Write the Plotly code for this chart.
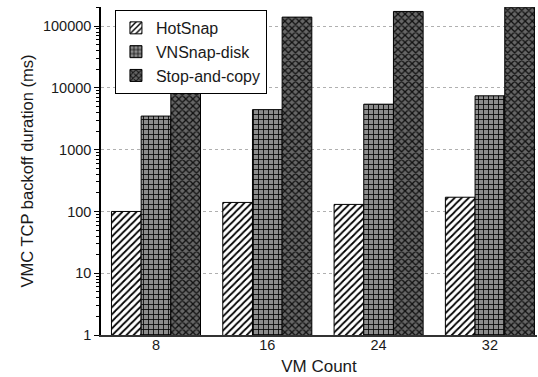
import plotly.graph_objects as go

# VM counts on the x axis and backoff durations (ms) per method
vm_counts = ["8", "16", "24", "32"]
hotsnap = [100, 140, 130, 170]
vnsnap_disk = [3500, 4450, 5450, 7450]
stop_and_copy = [120000, 140000, 173000, 203000]

y_tick_vals = [1, 10, 100, 1000, 10000, 100000]
y_tick_text = ["1", "10", "100", "1000", "10000", "100000"]

series = [
    ("HotSnap", hotsnap, dict(shape="/", bgcolor="white", fgcolor="black", size=5, solidity=0.35)),
    ("VNSnap-disk", vnsnap_disk, dict(shape="+", bgcolor="#8c8c8c", fgcolor="black", size=5, solidity=0.3)),
    ("Stop-and-copy", stop_and_copy, dict(shape="x", bgcolor="#666666", fgcolor="#111111", size=5, solidity=0.45)),
]

fig = go.Figure()
for name, values, pattern in series:
    fig.add_trace(go.Bar(
        x=vm_counts,
        y=values,
        name=name,
        marker=dict(
            color=pattern["bgcolor"],
            line=dict(color="black", width=1),
            pattern=dict(fillmode="replace", **pattern),
        ),
    ))

font_family = "Liberation Sans"

fig.update_layout(
    width=538,
    height=377,
    margin=dict(l=101, r=1, t=7, b=42),
    paper_bgcolor="white",
    plot_bgcolor="white",
    barmode="group",
    bargap=0.2,
    bargroupgap=0,
    font=dict(family=font_family, color="#1a1a1a", size=14.5),
    showlegend=True,
    legend=dict(
        x=0.032, y=0.991, xanchor="left", yanchor="top",
        bgcolor="white", bordercolor="black", borderwidth=1,
        font=dict(size=16, family=font_family),
        tracegroupgap=0,
    ),
    xaxis=dict(
        type="category",
        range=[-0.494, 3.423],
        showline=True, linecolor="#333333", linewidth=2,
        ticks="", showgrid=False,
        ticklabelstandoff=-4,
        title=dict(text="VM Count", font=dict(size=17, family=font_family), standoff=8),
        tickfont=dict(size=14.5, family=font_family),
    ),
    yaxis=dict(
        type="log",
        range=[0, 5.31],
        tickmode="array", tickvals=y_tick_vals, ticktext=y_tick_text,
        showline=True, linecolor="black", linewidth=1.5,
        ticks="outside", ticklen=5, tickcolor="black", tickwidth=1,
        showgrid=True, gridcolor="#b0b0b0", griddash="dot", gridwidth=1,
        minor=dict(ticks="outside", ticklen=3, tickcolor="black", dtick="D1", showgrid=False),
        zeroline=False,
        title=dict(text="VMC TCP backoff duration (ms)", font=dict(size=16.5, family=font_family), standoff=5),
        tickfont=dict(size=14.5, family=font_family),
    ),
)

fig.write_html("out.html")
